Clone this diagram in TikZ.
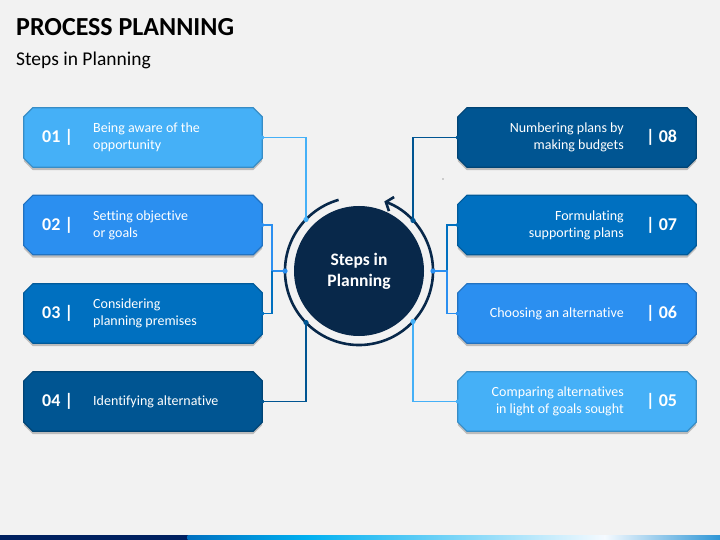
\documentclass[tikz,border=0pt]{standalone}
\usepackage{fontspec}
\setmainfont{Carlito}[Ligatures=NoCommon]
\usetikzlibrary{arrows.meta,calc}
\definecolor{bg}{RGB}{242,242,242}
\definecolor{cA}{RGB}{69,176,247}
\definecolor{cB}{RGB}{43,143,240}
\definecolor{cC}{RGB}{0,112,192}
\definecolor{cD}{RGB}{0,85,146}
\definecolor{navy}{RGB}{8,40,74}
\definecolor{barnavy}{RGB}{0,32,96}
\definecolor{barblue}{RGB}{0,112,192}
\definecolor{barcyan}{RGB}{0,176,240}
\definecolor{barwhite}{RGB}{245,250,255}
\definecolor{barend}{RGB}{46,150,214}
\tikzset{
  stepbox/.style={rectangle, minimum width=238bp, minimum height=59bp, inner sep=0pt},
  numtxt/.style={text=white, font=\fontsize{18bp}{20bp}\selectfont\bfseries, inner sep=0pt},
  bodytxt/.style={text=white, font=\fontsize{14bp}{17bp}\selectfont, inner sep=0pt},
  link/.style={line width=1.8bp, draw=#1},
  boxshadow/.style={fill=black, opacity=.22},
  boxface/.style={fill=#1, draw=#1!80!black, line width=1.2bp},
}
\begin{document}
\begin{tikzpicture}[x=1bp,y=-1bp]
\fill[bg] (0,0) rectangle (720,540);
\useasboundingbox (0,0) rectangle (720,540);
% title
\node[anchor=base west, inner sep=0, font=\fontsize{26bp}{30bp}\selectfont\bfseries] (title) at (16,36) {PROCESS PLANNING};
\node[anchor=base west, inner sep=0, font=\fontsize{19.5bp}{23bp}\selectfont] (sub) at (16,66) {Steps in Planning};
% box frames
\node[stepbox] (b1) at (143,137.5) {};
\node[stepbox] (b2) at (143,225) {};
\node[stepbox] (b3) at (143,313.5) {};
\node[stepbox] (b4) at (143,401.5) {};
\node[stepbox] (b8) at (577,137.5) {};
\node[stepbox] (b7) at (577,225) {};
\node[stepbox] (b6) at (577,313.5) {};
\node[stepbox] (b5) at (577,401.5) {};
\foreach \b/\c in {b1/cA,b2/cB,b3/cC,b4/cD,b8/cD,b7/cC,b6/cB,b5/cA}{
  \fill[boxshadow] ($(\b.north west)+(9,3)$) -- ($(\b.north east)+(-9,3)$) -- ($(\b.north east)+(0,12)$)
    -- ($(\b.south east)+(0,-6)$) -- ($(\b.south east)+(-9,3)$) -- ($(\b.south west)+(9,3)$)
    -- ($(\b.south west)+(0,-6)$) -- ($(\b.north west)+(0,12)$) -- cycle;
  \filldraw[boxface=\c] ($(\b.north west)+(9,0)$) -- ($(\b.north east)+(-9,0)$) -- ($(\b.north east)+(0,9)$)
    -- ($(\b.south east)+(0,-9)$) -- ($(\b.south east)+(-9,0)$) -- ($(\b.south west)+(9,0)$)
    -- ($(\b.south west)+(0,-9)$) -- ($(\b.north west)+(0,9)$) -- cycle;
}
% left texts
\node[numtxt, anchor=west] (n1) at (42,137.5) {01 |};
\node[numtxt, anchor=west] (n2) at (42,225) {02 |};
\node[numtxt, anchor=west] (n3) at (42,313.5) {03 |};
\node[numtxt, anchor=west] (n4) at (42,401.5) {04 |};
\node[bodytxt, anchor=west, align=left] (t1) at (93,137.5) {Being aware of the\\opportunity};
\node[bodytxt, anchor=west, align=left] (t2) at (93,225) {Setting objective\\or goals};
\node[bodytxt, anchor=west, align=left] (t3) at (93,313.5) {Considering\\planning premises};
\node[bodytxt, anchor=west, align=left] (t4) at (93,401.5) {Identifying alternative};
% right texts
\node[numtxt, anchor=west] (n8) at (646,137.5) {| 08};
\node[numtxt, anchor=west] (n7) at (646,225) {| 07};
\node[numtxt, anchor=west] (n6) at (646,313.5) {| 06};
\node[numtxt, anchor=west] (n5) at (646,401.5) {| 05};
\node[bodytxt, anchor=east, align=right] (t8) at (624,137.5) {Numbering plans by\\making budgets};
\node[bodytxt, anchor=east, align=right] (t7) at (624,225) {Formulating\\supporting plans};
\node[bodytxt, anchor=east, align=right] (t6) at (624,313.5) {Choosing an alternative};
\node[bodytxt, anchor=east, align=right] (t5) at (624,401.5) {Comparing alternatives\\in light of goals sought};
% hub
\node[circle, fill=navy, minimum size=130bp, inner sep=0, text=white,
  font=\fontsize{17.5bp}{21bp}\selectfont\bfseries, align=center] (hub) at (359,271) {Steps in\\Planning};
\draw[navy, line width=2.6bp, -{Straight Barb[length=6bp,width=15bp,line width=2.6bp]}]
  ($(hub.center)+(-106:74)$) arc[start angle=-106, end angle=-430, radius=74];
% connector points
\coordinate (r1) at (306,219.5);
\coordinate (r4) at (306,322.5);
\coordinate (r8) at (413,220.5);
\coordinate (r5) at (413,321.5);
\coordinate (jl) at (272,271);
\coordinate (rl) at (285,271);
\coordinate (jr) at (447,271);
\coordinate (rr) at (433,271);
% connectors
\draw[link=cA] (b1.east) -| (r1);
\draw[link=cB] (b2.east) -| (jl) -- (rl);
\draw[link=cC] (b3.east) -| (jl);
\draw[link=cD] (b4.east) -| (r4);
\draw[link=cD] (b8.west) -| (r8);
\draw[link=cC] (b7.west) -| (jr);
\draw[link=cB] (b6.west) -| (jr) -- (rr);
\draw[link=cA] (b5.west) -| (r5);
% dots
\fill[cA] (r1) circle[radius=2.6bp] (b1.east) circle[radius=2bp];
\fill[cB] (rl) circle[radius=2.6bp] (b2.east) circle[radius=2bp];
\fill[cC] (b3.east) circle[radius=2bp];
\fill[cD] (r4) circle[radius=2.6bp] (b4.east) circle[radius=2bp];
\fill[cD] (r8) circle[radius=2.6bp] (b8.west) circle[radius=2bp];
\fill[cC] (b7.west) circle[radius=2bp];
\fill[cB] (rr) circle[radius=2.6bp] (b6.west) circle[radius=2bp];
\fill[cA] (r5) circle[radius=2.6bp] (b5.west) circle[radius=2bp];
\fill[gray!70] (443,179) circle[radius=0.9bp];
% bottom bar
\fill[barnavy] (0,535) rectangle (188,540);
\shade[left color=barblue, right color=barcyan] (187.5,535) rectangle (307,540);
\shade[left color=barcyan, right color=barwhite] (306.5,535) rectangle (605,540);
\shade[left color=barwhite, right color=barend] (604.5,535) rectangle (720,540);
\end{tikzpicture}
\end{document}
